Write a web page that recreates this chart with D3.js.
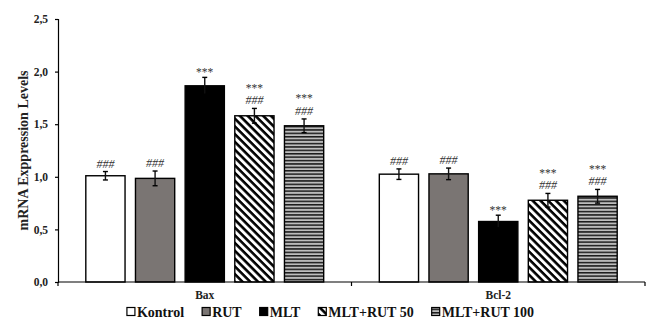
<!DOCTYPE html>
<html lang="en">
<head>
    <meta charset="UTF-8">
    <script src="https://cdn.jsdelivr.net/npm/d3@7"></script>
    <title>mRNA Expression</title>
    <style>
        body { margin: 0; background: #fff; }
        text { font-family: "Liberation Serif", "Times New Roman", serif; }
    </style>
</head>
<body>
    <div class="fig"></div>
    <script>
        const genes = ["Bax", "Bcl-2"];
        const groups = ["Kontrol", "RUT", "MLT", "MLT+RUT 50", "MLT+RUT 100"];
        const baxValues = [1.01, 0.985, 1.865, 1.58, 1.485];
        const baxErrors = [0.04, 0.07, 0.08, 0.07, 0.065];
        const bclValues = [1.025, 1.028, 0.575, 0.777, 0.815];
        const bclErrors = [0.05, 0.055, 0.06, 0.065, 0.065];
        // significance marks, top line then bottom line
        const baxMarks = [["###"], ["###"], ["***"], ["***", "###"], ["***", "###"]];
        const bclMarks = [["###"], ["###"], ["***"], ["***", "###"], ["***", "###"]];
        const yTicks = [0, 0.5, 1, 1.5, 2, 2.5];

        const width = 649, height = 327;
        const margin = { left: 58, right: 4, top: 19, bottom: 45 };

        const data = [];
        genes.forEach((g, gi) => {
            const vals = gi === 0 ? baxValues : bclValues;
            const errs = gi === 0 ? baxErrors : bclErrors;
            const marks = gi === 0 ? baxMarks : bclMarks;
            groups.forEach((k, i) => data.push({ gene: g, group: k, value: vals[i], err: errs[i], marks: marks[i] }));
        });

        const svg = d3.select(".fig").append("svg")
            .attr("width", width)
            .attr("height", height);

        const defs = svg.append("defs");
        // diagonal hatch (top-left to bottom-right)
        const diag = defs.append("pattern")
            .attr("id", "diag")
            .attr("patternUnits", "userSpaceOnUse")
            .attr("width", 5.5).attr("height", 5.5)
            .attr("patternTransform", "rotate(45)");
        diag.append("rect").attr("width", 5.5).attr("height", 5.5).attr("fill", "#fff");
        diag.append("rect").attr("width", 5.5).attr("height", 2.6).attr("fill", "#000");

        const horiz = defs.append("pattern")
            .attr("id", "horiz")
            .attr("patternUnits", "userSpaceOnUse")
            .attr("width", 4).attr("height", 3.4);
        horiz.append("rect").attr("width", 4).attr("height", 3.4).attr("fill", "#bdbdbd");
        horiz.append("rect").attr("width", 4).attr("height", 1.5).attr("fill", "#1a1a1a");

        const fills = ["#ffffff", "#7a7573", "#000000", "url(#diag)", "url(#horiz)"];
        const color = d3.scaleOrdinal().domain(groups).range(fills);

        const x0 = d3.scaleBand()
            .domain(genes)
            .range([margin.left, width - margin.right]);

        const x1 = d3.scaleBand()
            .domain(groups)
            .range([0, x0.bandwidth()])
            .paddingInner(0.21)
            .paddingOuter(0.56);

        const y = d3.scaleLinear()
            .domain([0, 2.5])
            .range([height - margin.bottom, margin.top]);

        // bars
        const bars = svg.append("g").selectAll("g")
            .data(data)
            .enter()
            .append("g")
            .attr("transform", d => `translate(${x0(d.gene) + x1(d.group)},0)`);

        bars.append("rect")
            .attr("x", 0)
            .attr("y", d => y(d.value))
            .attr("width", x1.bandwidth())
            .attr("height", d => y(0) - y(d.value))
            .attr("fill", d => color(d.group))
            .attr("stroke", "#000")
            .attr("stroke-width", 1.4);

        // error bars
        const cx = x1.bandwidth() / 2;
        bars.append("line")
            .attr("x1", cx).attr("x2", cx)
            .attr("y1", d => y(d.value - d.err))
            .attr("y2", d => y(d.value + d.err))
            .attr("stroke", "#111")
            .attr("stroke-width", 1.4);
        bars.selectAll(".cap")
            .data(d => [d.value - d.err, d.value + d.err].map(v => ({ v: v, d: d })))
            .enter()
            .append("line")
            .attr("x1", cx - 2.5).attr("x2", cx + 2.5)
            .attr("y1", c => y(c.v)).attr("y2", c => y(c.v))
            .attr("stroke", "#000")
            .attr("stroke-width", 1.4);

        // significance marks
        bars.selectAll(".mark")
            .data(d => d.marks.map((m, i) => ({ m: m, i: i, n: d.marks.length, d: d })))
            .enter()
            .append("text")
            .attr("x", cx)
            .attr("y", c => y(c.d.value + c.d.err) - 4 - (c.n - 1 - c.i) * 15.5 + (c.m === "***" ? 3 : 0))
            .attr("text-anchor", "middle")
            .attr("font-size", c => c.m === "###" ? 12 : 11.5)
            .attr("font-style", c => c.m === "###" ? "italic" : "normal")
            .attr("fill", "#333")
            .text(c => c.m);

        // y axis
        const yAxis = svg.append("g")
            .attr("transform", `translate(${margin.left},0)`)
            .call(d3.axisLeft(y).tickValues(yTicks).tickSize(3).tickFormat(d => d3.format(".1f")(d).replace(".", ",")));
        yAxis.select(".domain").attr("stroke-width", 1.2);
        yAxis.selectAll("line").attr("stroke-width", 1.2);
        yAxis.selectAll("text")
            .attr("font-family", "Liberation Serif")
            .attr("font-weight", "bold")
            .attr("font-size", 11.5)
            .attr("fill", "#222")
            .attr("dx", -4);

        // x axis baseline with group separators
        const xAxis = svg.append("g")
            .attr("transform", `translate(0,${y(0)})`);
        xAxis.append("line")
            .attr("x1", margin.left).attr("x2", width - margin.right)
            .attr("stroke", "#000").attr("stroke-width", 1.2);
        xAxis.selectAll(".sep")
            .data(genes.map(g => x0(g)).concat([x0("Bcl-2") + x0.bandwidth()]))
            .enter()
            .append("line")
            .attr("x1", d => d).attr("x2", d => d)
            .attr("y1", 0).attr("y2", 4)
            .attr("stroke", "#000").attr("stroke-width", 1.2);
        xAxis.selectAll(".cat")
            .data(genes)
            .enter()
            .append("text")
            .attr("x", d => x0(d) + x0.bandwidth() / 2)
            .attr("y", 17)
            .attr("text-anchor", "middle")
            .attr("font-weight", "bold")
            .attr("font-size", 11.5)
            .attr("fill", "#222")
            .text(d => d);

        // y title
        svg.append("text")
            .attr("transform", `translate(28,${(y(0) + y(2.5)) / 2}) rotate(-90)`)
            .attr("text-anchor", "middle")
            .attr("font-weight", "bold")
            .attr("font-size", 14)
            .attr("fill", "#222")
            .text("mRNA Exppression Levels");

        // legend
        const legend = svg.append("g").attr("transform", "translate(0,312)");
        const items = legend.selectAll("g")
            .data(groups)
            .enter()
            .append("g");
        items.append("rect")
            .attr("x", 0).attr("y", -4.5)
            .attr("width", 8).attr("height", 8)
            .attr("fill", d => color(d))
            .attr("stroke", "#000")
            .attr("stroke-width", 1.2);
        items.append("text")
            .attr("x", 10)
            .attr("y", 5)
            .attr("font-weight", "bold")
            .attr("font-size", 14)
            .attr("fill", "#111")
            .text(d => d);
        let lx = 0;
        const positions = [];
        items.each(function () {
            positions.push(lx);
            lx += 10 + this.querySelector("text").getComputedTextLength() + 18;
        });
        const total = lx - 18;
        const start = 330.5 - total / 2;
        items.attr("transform", (d, i) => `translate(${start + positions[i]},0)`);
    </script>
</body>
</html>
